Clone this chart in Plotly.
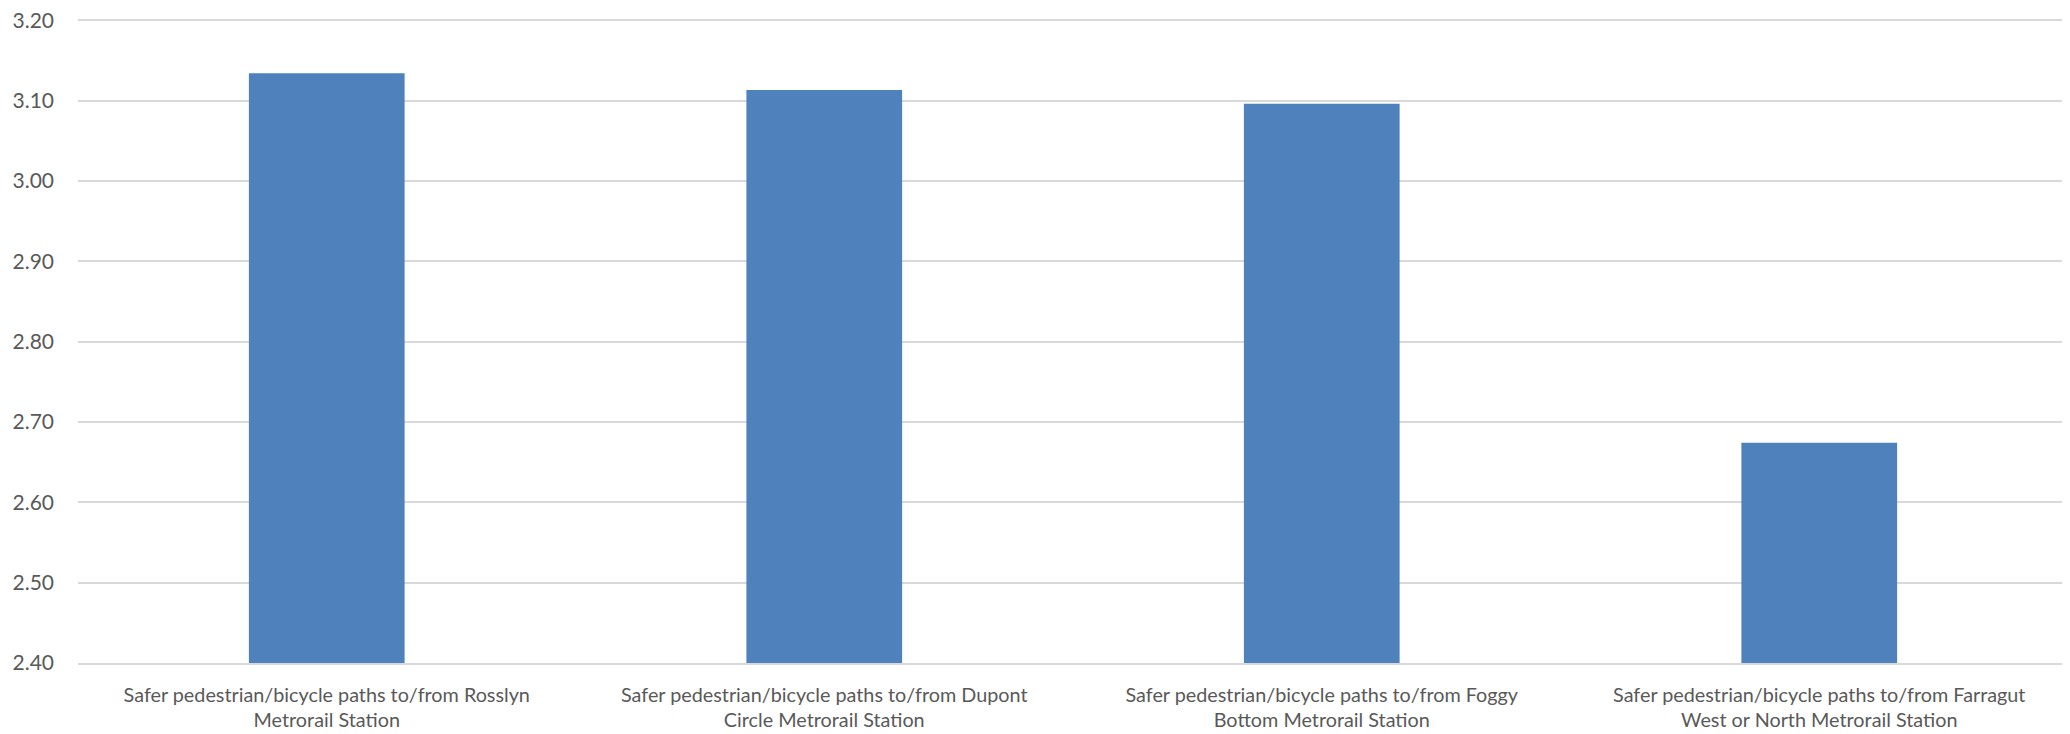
import plotly.graph_objects as go

categories = [
    "Safer pedestrian/bicycle paths to/from Rosslyn<br>Metrorail Station",
    "Safer pedestrian/bicycle paths to/from Dupont<br>Circle Metrorail Station",
    "Safer pedestrian/bicycle paths to/from Foggy<br>Bottom Metrorail Station",
    "Safer pedestrian/bicycle paths to/from Farragut<br>West or North Metrorail Station",
]
values = [3.134, 3.113, 3.096, 2.674]
y_ticks = [2.4, 2.5, 2.6, 2.7, 2.8, 2.9, 3.0, 3.1, 3.2]

fig = go.Figure(
    go.Bar(
        x=categories,
        y=values,
        marker=dict(color="#4F81BD", line=dict(width=0)),
        width=0.313,
    )
)

font_family = "Lato, 'Liberation Sans', sans-serif"
fig.update_layout(
    width=2062,
    height=726,
    margin=dict(l=70, r=2, t=11, b=71, autoexpand=False),
    paper_bgcolor="white",
    plot_bgcolor="white",
    showlegend=False,
    font=dict(family=font_family, size=21, color="#595959"),
    bargap=0.687,
)
fig.update_yaxes(
    range=[2.4, 3.2015],
    tickvals=y_ticks,
    tickformat=".2f",
    showgrid=True,
    gridcolor="#D9D9D9",
    gridwidth=1.5,
    zeroline=False,
    showline=False,
    ticks="",
    automargin=False,
    ticklabelstandoff=23,
    ticklabeloverflow="allow",
    tickfont=dict(size=21, color="#595959"),
)
fig.update_xaxes(
    showgrid=False,
    showline=True,
    linecolor="#D9D9D9",
    linewidth=1.5,
    ticks="",
    automargin=False,
    ticklabelstandoff=13,
    tickfont=dict(size=19.8, color="#595959"),
)

fig.write_html("out.html")
